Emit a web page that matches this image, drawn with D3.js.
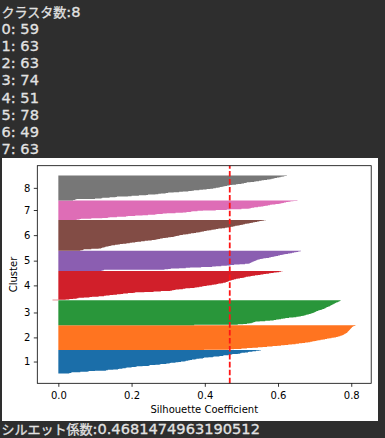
<!DOCTYPE html>
<html><head><meta charset="utf-8">
<script src="https://cdn.jsdelivr.net/npm/d3@7"></script>
<style>html,body{margin:0;padding:0;background:#2e2e2e;overflow:hidden}</style>
</head><body><svg id="c" width="385" height="438"></svg>
<script>
// ---- data ----
const nClusters = 8;
const clusterIds = [0, 1, 2, 3, 4, 5, 6, 7];
const yTickLabels = ["1", "2", "3", "4", "5", "6", "7", "8"];
const xTickValues = [0.0, 0.2, 0.4, 0.6, 0.8];
const silhouetteAvg = 0.4681474963190512;
const clusterColors = ["#1b6ea9", "#ff7420", "#29963a", "#d11f2a", "#8b5eb1", "#824c45", "#de6db6", "#777777"];

const sil0 = [0.030,0.035,0.037,0.060,0.080,0.083,0.100,0.130,0.135,0.150,
 0.163,0.166,0.175,0.184,0.187,0.200,0.211,0.214,0.230,0.247,
 0.250,0.265,0.277,0.280,0.295,0.304,0.307,0.320,0.328,0.335,
 0.345,0.348,0.355,0.360,0.365,0.374,0.377,0.385,0.395,0.398,
 0.410,0.422,0.425,0.440,0.450,0.452,0.465,0.472,0.475,0.490,
 0.496,0.500,0.510,0.518,0.520,0.530,0.540,0.548,0.553];
const sil1 = [0.398,0.465,0.480,0.500,0.515,0.530,0.545,0.558,0.570,0.585,
 0.598,0.608,0.618,0.628,0.638,0.648,0.657,0.666,0.674,0.682,
 0.688,0.694,0.700,0.705,0.710,0.716,0.722,0.728,0.734,0.740,
 0.746,0.752,0.758,0.763,0.767,0.770,0.773,0.776,0.778,0.780,
 0.782,0.784,0.786,0.788,0.789,0.790,0.791,0.792,0.793,0.794,
 0.795,0.796,0.797,0.798,0.799,0.800,0.801,0.802,0.803,0.805,
 0.807,0.810,0.813];
const sil2 = [0.371,0.490,0.505,0.515,0.522,0.528,0.532,0.535,0.538,0.550,
 0.565,0.578,0.588,0.595,0.602,0.608,0.614,0.620,0.630,0.642,
 0.650,0.656,0.662,0.667,0.672,0.676,0.680,0.684,0.688,0.691,
 0.694,0.697,0.700,0.702,0.704,0.706,0.709,0.713,0.717,0.720,
 0.723,0.726,0.728,0.730,0.732,0.734,0.737,0.740,0.742,0.744,
 0.746,0.748,0.750,0.752,0.754,0.756,0.758,0.761,0.764,0.766,
 0.768,0.770,0.772];
const sil3 = [-0.016,0.020,0.030,0.040,0.050,0.055,0.070,0.085,0.092,0.110,
 0.125,0.130,0.140,0.150,0.160,0.170,0.177,0.190,0.205,0.210,
 0.235,0.260,0.280,0.305,0.310,0.315,0.320,0.330,0.340,0.347,
 0.360,0.372,0.378,0.385,0.393,0.397,0.405,0.412,0.419,0.425,
 0.432,0.437,0.445,0.450,0.455,0.458,0.462,0.464,0.466,0.470,
 0.473,0.476,0.480,0.485,0.490,0.496,0.503,0.508,0.512,0.518,
 0.525,0.530,0.537,0.545,0.552,0.560,0.567,0.575,0.580,0.588,
 0.596,0.603,0.608,0.613];
const sil4 = [0.118,0.122,0.125,0.290,0.300,0.307,0.330,0.348,0.360,0.390,
 0.420,0.430,0.445,0.460,0.470,0.480,0.495,0.510,0.520,0.523,
 0.525,0.527,0.530,0.532,0.535,0.537,0.540,0.543,0.546,0.550,
 0.555,0.560,0.567,0.575,0.580,0.585,0.590,0.595,0.600,0.605,
 0.610,0.615,0.620,0.627,0.633,0.638,0.644,0.650,0.655,0.659,
 0.663];
const sil5 = [0.060,0.066,0.068,0.070,0.090,0.110,0.117,0.120,0.125,0.128,
 0.131,0.137,0.143,0.147,0.155,0.162,0.168,0.176,0.186,0.195,
 0.201,0.210,0.216,0.226,0.236,0.245,0.255,0.263,0.268,0.273,
 0.278,0.285,0.293,0.300,0.307,0.315,0.320,0.325,0.330,0.333,
 0.340,0.348,0.355,0.362,0.370,0.376,0.383,0.388,0.393,0.398,
 0.405,0.412,0.418,0.424,0.430,0.437,0.447,0.455,0.460,0.466,
 0.472,0.478,0.483,0.489,0.495,0.500,0.505,0.510,0.516,0.522,
 0.527,0.532,0.537,0.543,0.549,0.555,0.561,0.567];
const sil6 = [0.050,0.058,0.062,0.090,0.120,0.135,0.140,0.160,0.185,0.190,
 0.210,0.230,0.245,0.265,0.270,0.285,0.296,0.320,0.340,0.350,
 0.362,0.366,0.380,0.395,0.430,0.460,0.470,0.500,0.520,0.525,
 0.528,0.535,0.545,0.553,0.560,0.565,0.572,0.578,0.583,0.593,
 0.602,0.607,0.612,0.616,0.622,0.628,0.634,0.642,0.653];
const sil7 = [0.040,0.045,0.047,0.050,0.100,0.117,0.120,0.140,0.156,0.160,
 0.190,0.200,0.220,0.240,0.245,0.265,0.273,0.280,0.293,0.300,
 0.315,0.330,0.340,0.355,0.364,0.370,0.385,0.395,0.405,0.415,
 0.423,0.430,0.437,0.441,0.446,0.451,0.456,0.461,0.468,0.475,
 0.485,0.490,0.500,0.507,0.512,0.515,0.525,0.535,0.540,0.548,
 0.555,0.562,0.570,0.577,0.582,0.588,0.592,0.597,0.603,0.607,
 0.612,0.617,0.624];
const silhouetteVals = [sil0, sil1, sil2, sil3, sil4, sil5, sil6, sil7];

// ---- drawing ----
const svg = d3.select("#c");
const W = 385, H = 438;
svg.append("rect").attr("width", W).attr("height", H).attr("fill", "#2e2e2e");

const cjkRe = /[\u3000-\u30ff\u4e00-\u9fff]+|[^\u3000-\u30ff\u4e00-\u9fff]+/g;
function mixedText(x, y, str) {
  const t = svg.append("text").attr("x", x).attr("y", y)
    .attr("fill", "#e2e2e2").attr("stroke", "#e2e2e2").attr("stroke-width", 0.3);
  (str.match(cjkRe) || []).forEach(run => {
    const isCjk = /[\u3000-\u30ff\u4e00-\u9fff]/.test(run);
    t.append("tspan")
      .attr("font-family", isCjk ? "'Noto Sans CJK JP'" : "'DejaVu Sans'")
      .attr("font-size", isCjk ? 13 : 14.6)
      .attr("xml:space", "preserve")
      .style("white-space", "pre")
      .text(run);
  });
  return t;
}

const lines = ["クラスタ数:" + nClusters].concat(clusterIds.map((c, i) => c + ": " + silhouetteVals[i].length));
lines.forEach((s, i) => mixedText(1.5, 17 + i * 17.1, s));
mixedText(1.5, 433.5, "シルエット係数:" + String(silhouetteAvg));

// figure background
svg.append("rect").attr("x", 2).attr("y", 158).attr("width", 376).attr("height", 263).attr("fill", "#ffffff");

const ax = { l: 37.3, r: 371.2, t: 165.7, b: 383.3 };

let lower = 0;
const starts = [], tickPos = [];
silhouetteVals.forEach(v => { starts.push(lower); tickPos.push(lower + v.length / 2); lower += v.length; });
const total = lower;

const yPad = (total) * 0.05;
const y = d3.scaleLinear().domain([-0.5 - yPad, total - 0.5 + yPad]).range([ax.b, ax.t]);
const all = silhouetteVals.flat();
const xmin = Math.min(0, d3.min(all)), xmax = Math.max(0, d3.max(all));
const xPad = (xmax - xmin) * 0.05;
const x = d3.scaleLinear().domain([xmin - xPad, xmax + xPad]).range([ax.l, ax.r]);

const area = d3.area().curve(d3.curveStepBefore)
  .y(d => y(d.i)).x0(x(0)).x1(d => x(d.v));

silhouetteVals.forEach((vals, c) => {
  const pts = vals.map((v, k) => ({ i: starts[c] + k - 0.5, v }));
  pts.push({ i: starts[c] + vals.length - 0.5, v: vals[vals.length - 1] });
  svg.append("path").attr("d", area(pts)).attr("fill", clusterColors[c]);
});

// average line
svg.append("line")
  .attr("x1", x(silhouetteAvg)).attr("x2", x(silhouetteAvg))
  .attr("y1", ax.b).attr("y2", ax.t)
  .attr("stroke", "#ff1414").attr("stroke-width", 1.8)
  .attr("stroke-dasharray", "5.55,2.4");

// frame
svg.append("rect").attr("x", ax.l).attr("y", ax.t)
  .attr("width", ax.r - ax.l).attr("height", ax.b - ax.t)
  .attr("fill", "none").attr("stroke", "#000").attr("stroke-width", 0.8);

// axes
const gx = svg.append("g").attr("transform", `translate(0,${ax.b})`)
  .call(d3.axisBottom(x).tickValues(xTickValues).tickFormat(d3.format(".1f")).tickSize(3.5).tickPadding(3.5));
gx.select(".domain").remove();
gx.selectAll("line").attr("stroke", "#000").attr("stroke-width", 0.8);
gx.selectAll("text").attr("dy", null).attr("y", 15.9)
  .attr("font-family", "'DejaVu Sans'").attr("font-size", 10).attr("fill", "#000");

const gy = svg.append("g").attr("transform", `translate(${ax.l},0)`)
  .call(d3.axisLeft(y).tickValues(tickPos).tickFormat((d, i) => yTickLabels[i]).tickSize(3.5).tickPadding(3.5));
gy.select(".domain").remove();
gy.selectAll("line").attr("stroke", "#000").attr("stroke-width", 0.8);
gy.selectAll("text").attr("font-family", "'DejaVu Sans'").attr("font-size", 10).attr("fill", "#000");

svg.append("text").attr("x", (ax.l + ax.r) / 2).attr("y", 412.7)
  .attr("text-anchor", "middle").attr("font-family", "'DejaVu Sans'").attr("font-size", 10)
  .text("Silhouette Coefficient");
svg.append("text").attr("transform", `translate(16.5,${(ax.t + ax.b) / 2}) rotate(-90)`)
  .attr("text-anchor", "middle").attr("font-family", "'DejaVu Sans'").attr("font-size", 10)
  .text("Cluster");
</script></body></html>
